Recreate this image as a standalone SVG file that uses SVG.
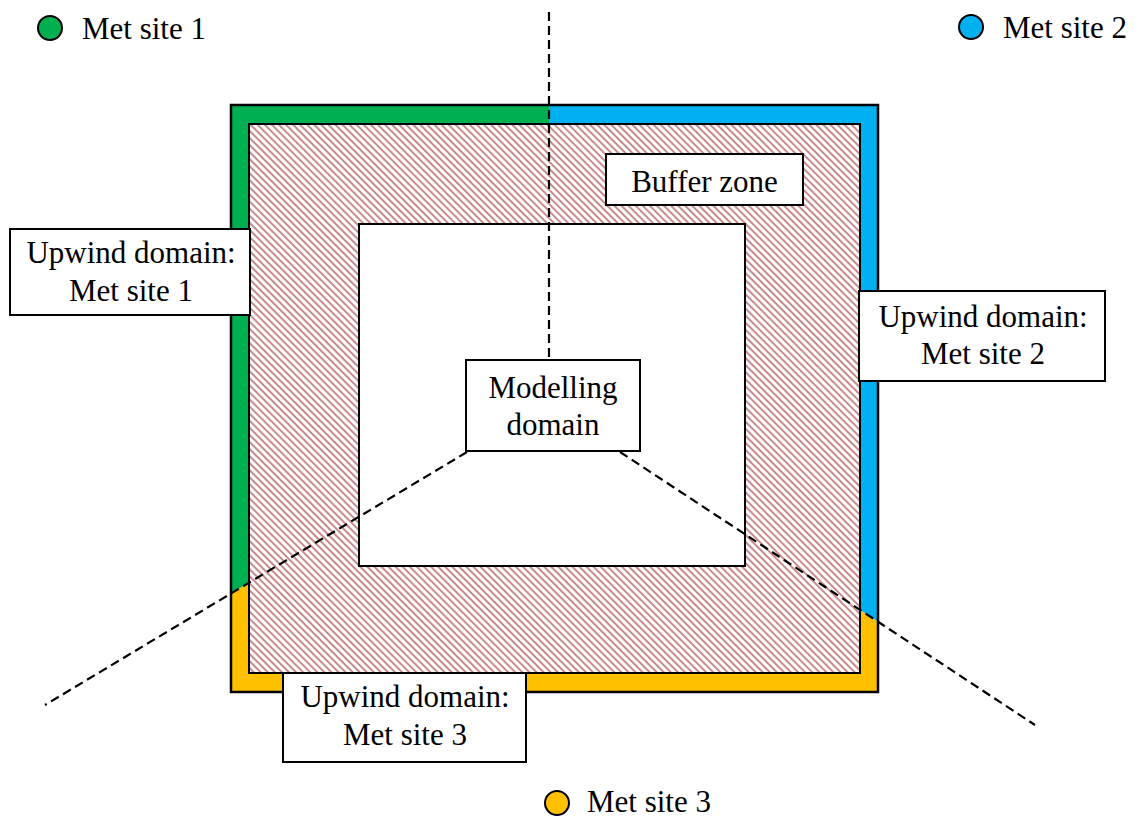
<svg xmlns="http://www.w3.org/2000/svg" width="1138" height="819" viewBox="0 0 1138 819">
<defs>
<pattern id="hatch" patternUnits="userSpaceOnUse" width="5" height="5" patternTransform="rotate(45)">
<rect width="5" height="5" fill="#ffffff"/>
<rect x="0" y="0" width="5" height="2" fill="#c98a8c"/>
</pattern>
</defs>
<style>
.t{font-family:"Liberation Serif","Times New Roman",serif;font-size:31px;fill:#000}
.c{text-anchor:middle}
.box{fill:#fff;stroke:#000;stroke-width:2}
.dash{fill:none;stroke:#000;stroke-width:2.2;stroke-dasharray:9,5}
.dot{stroke:#000;stroke-width:2}
</style>
<rect width="1138" height="819" fill="#fff"/>
<g id="upwind-zones">
<polygon points="231,105 549,105 549,360 467,452 231,593.6" fill="#00b050"/>
<polygon points="549,105 878,105 878,621.8 620,452 549,360" fill="#00b0f0"/>
<polygon points="231,593.6 467,452 620,452 878,621.8 878,692 231,692" fill="#ffc000"/>
<rect x="231" y="105" width="647" height="587" fill="none" stroke="#000" stroke-width="2.5"/>
</g>
<g id="buffer-zone-area">
<rect x="249" y="124" width="611" height="549" fill="url(#hatch)" stroke="#000" stroke-width="2"/>
</g>
<g id="modelling-area">
<rect x="359" y="224" width="386" height="342" fill="#fff" stroke="#000" stroke-width="2"/>
</g>
<g id="connectors">
<line class="dash" x1="549" y1="12" x2="549" y2="360"/>
<line class="dash" x1="467" y1="452" x2="45" y2="705"/>
<line class="dash" x1="620" y1="452" x2="1035" y2="725"/>
</g>
<g id="buffer-zone">
<rect class="box" x="606" y="154" width="197" height="51"/>
<text class="t c" x="704.5" y="192">Buffer zone</text>
</g>
<g id="modelling-domain">
<rect class="box" x="466" y="360" width="174" height="91"/>
<text class="t c" x="553" y="398">Modelling</text>
<text class="t c" x="553" y="435">domain</text>
</g>
<g id="upwind-1">
<rect class="box" x="10" y="229" width="240" height="86"/>
<text class="t c" x="131" y="263">Upwind domain:</text>
<text class="t c" x="131" y="301">Met site 1</text>
</g>
<g id="upwind-2">
<rect class="box" x="859" y="291" width="246" height="90"/>
<text class="t c" x="983" y="327">Upwind domain:</text>
<text class="t c" x="983" y="364">Met site 2</text>
</g>
<g id="upwind-3">
<rect class="box" x="283" y="673" width="243" height="89"/>
<text class="t c" x="405" y="707">Upwind domain:</text>
<text class="t c" x="405" y="745">Met site 3</text>
</g>
<g id="met-site-1">
<circle class="dot" cx="50" cy="28" r="12" fill="#00b050"/>
<text class="t" x="82" y="39">Met site 1</text>
</g>
<g id="met-site-2">
<circle class="dot" cx="971" cy="27" r="12" fill="#00b0f0"/>
<text class="t" x="1003" y="38">Met site 2</text>
</g>
<g id="met-site-3">
<circle class="dot" cx="557" cy="803" r="12" fill="#ffc000"/>
<text class="t" x="587" y="812">Met site 3</text>
</g>
</svg>
